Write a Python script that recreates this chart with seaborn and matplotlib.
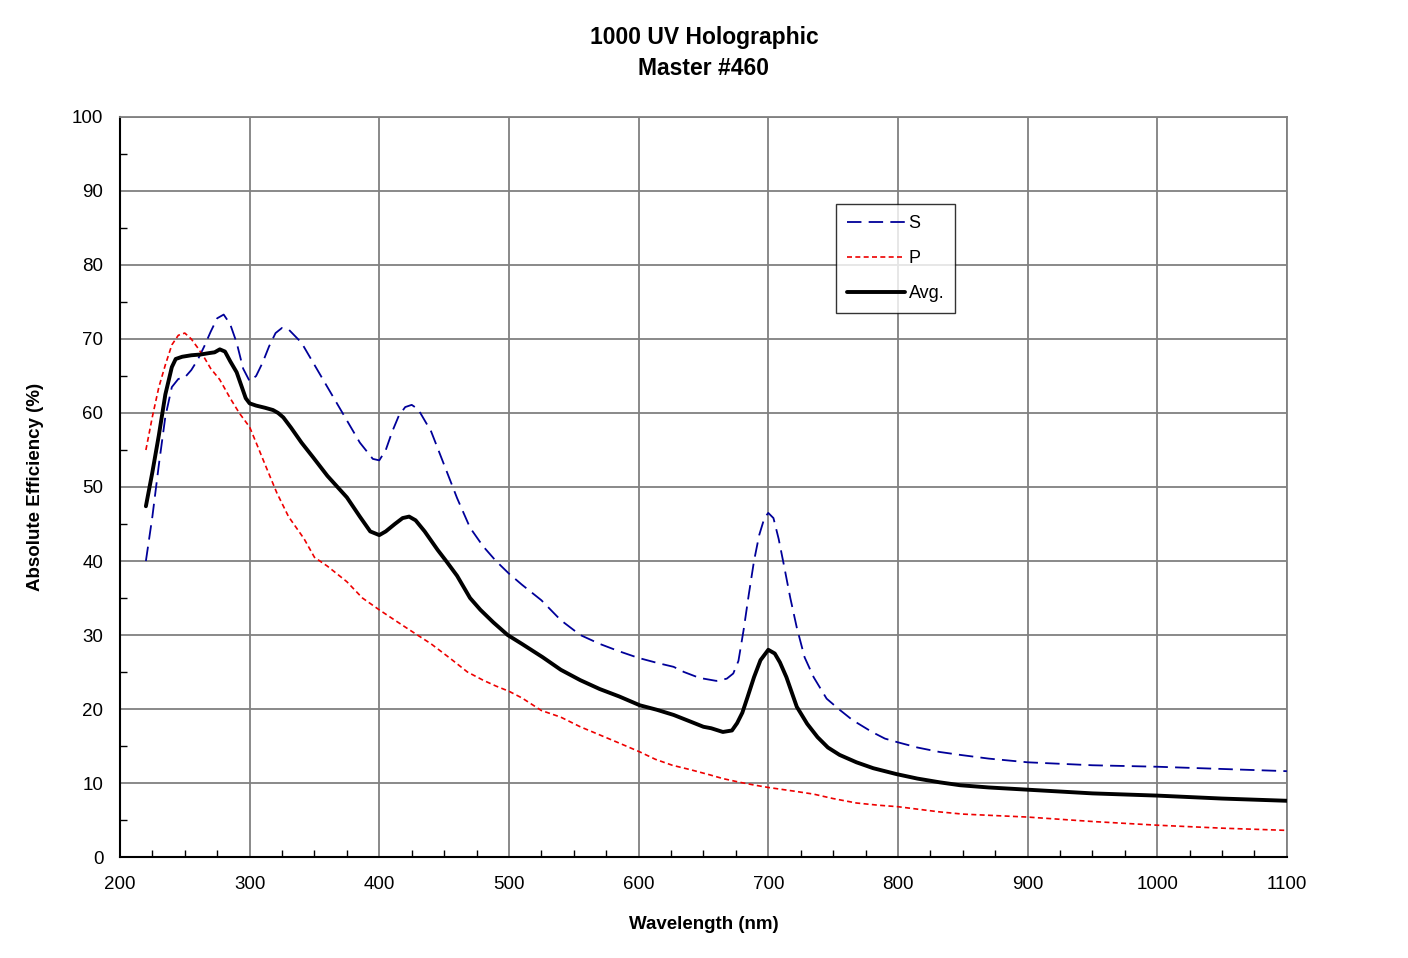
"""
Diffraction efficiency curves for the 1000 UV holographic master #460.
"""

import matplotlib
matplotlib.use("Agg")
import matplotlib.pyplot as plt
from matplotlib.ticker import MultipleLocator
import pandas as pd
import seaborn as sns

# S polarisation (nm, %)
s_wl = [220, 225, 230, 235, 240, 245, 250, 255, 260, 265, 270, 275, 280, 285,
        290, 295, 300, 305, 310, 315, 320, 325, 330, 340, 350, 360, 375, 385,
        395, 400, 405, 410, 415, 420, 425, 430, 440, 450, 460, 470, 480, 490,
        500, 510, 525, 540, 555, 570, 585, 600, 615, 627, 635, 647, 660, 668,
        673, 677, 681, 685, 689, 693, 697, 700, 704, 708, 712, 717, 722, 728,
        735, 745, 755, 765, 780, 790, 800, 815, 832, 848, 870, 900, 950, 1000,
        1050, 1100]
s_eff = [40.0, 46.0, 53.0, 59.5, 63.5, 64.6, 64.8, 65.8, 67.2, 69.0, 71.0, 72.8,
         73.3, 72.0, 69.5, 66.0, 64.3, 65.0, 66.8, 69.0, 70.8, 71.5, 71.3, 69.5,
         66.5, 63.5, 59.0, 56.0, 53.8, 53.6, 55.0, 57.5, 59.6, 60.8, 61.1, 60.5,
         57.5, 53.0, 48.5, 44.5, 42.0, 40.0, 38.3, 36.8, 34.7, 32.0, 30.0, 28.8,
         27.8, 26.9, 26.2, 25.7, 25.0, 24.2, 23.8, 24.1, 24.8, 26.5, 30.7, 35.5,
         40.0, 43.5, 45.8, 46.5, 45.8, 43.0, 39.5, 35.0, 31.0, 27.0, 24.3, 21.4,
         19.9, 18.5, 16.9, 16.0, 15.5, 14.8, 14.2, 13.8, 13.3, 12.8, 12.4, 12.2,
         11.9, 11.6]

# P polarisation
p_wl = [220, 225, 230, 235, 240, 245, 250, 255, 260, 265, 270, 277, 285, 292,
        300, 305, 312, 321, 330, 342, 350, 360, 375, 387, 400, 412, 425, 440,
        455, 468, 480, 490, 500, 510, 525, 540, 555, 570, 585, 601, 613, 626,
        640, 655, 665, 678, 690, 700, 720, 735, 750, 768, 785, 800, 832, 850,
        900, 950, 1000, 1050, 1100]
p_eff = [55.0, 59.5, 63.5, 66.5, 69.2, 70.5, 70.8, 70.0, 68.8, 67.5, 66.0, 64.5,
         62.0, 60.0, 58.1, 56.0, 53.0, 49.2, 46.0, 43.0, 40.5, 39.3, 37.2, 35.0,
         33.4, 32.0, 30.5, 28.8, 26.8, 25.0, 23.9, 23.1, 22.4, 21.5, 19.8, 18.9,
         17.6, 16.5, 15.4, 14.2, 13.2, 12.4, 11.8, 11.1, 10.6, 10.1, 9.7, 9.4,
         8.9, 8.5, 7.9, 7.3, 7.0, 6.8, 6.1, 5.8, 5.4, 4.8, 4.3, 3.9, 3.6]

# average of S and P
avg_wl = [220, 225, 230, 235, 240, 243, 248, 255, 262, 269, 273, 277, 281, 285,
          290, 294, 297, 300, 305, 312, 318, 322, 326, 332, 340, 349, 360, 375,
          385, 393, 400, 405, 412, 418, 423, 428, 435, 445, 452, 460, 470, 478,
          488, 499, 510, 526, 540, 555, 570, 585, 601, 614, 627, 640, 650, 656,
          665, 672, 676, 680, 684, 689, 694, 700, 705, 709, 714, 722, 730, 738,
          746, 755, 768, 781, 799, 815, 832, 848, 870, 900, 950, 1000, 1050, 1100]
avg_eff = [47.4, 52.0, 57.0, 62.5, 66.2, 67.3, 67.6, 67.8, 67.9, 68.1, 68.2,
           68.6, 68.3, 67.0, 65.5, 63.5, 62.0, 61.3, 61.0, 60.7, 60.4, 60.0,
           59.4, 58.0, 56.0, 54.0, 51.5, 48.6, 46.0, 44.0, 43.5, 44.0, 45.0,
           45.8, 46.0, 45.5, 44.0, 41.5, 39.9, 38.0, 35.0, 33.4, 31.7, 30.0,
           28.8, 27.0, 25.3, 23.9, 22.7, 21.7, 20.5, 19.9, 19.2, 18.3, 17.6,
           17.4, 16.9, 17.1, 18.1, 19.5, 21.6, 24.3, 26.6, 28.0, 27.5, 26.3,
           24.3, 20.3, 18.0, 16.2, 14.8, 13.8, 12.8, 12.0, 11.2, 10.6, 10.1,
           9.7, 9.4, 9.1, 8.6, 8.3, 7.9, 7.6]

sns.set_theme(style="white")
plt.rcParams["font.family"] = ["Liberation Sans", "DejaVu Sans"]
plt.rcParams["text.color"] = "black"
plt.rcParams["axes.labelcolor"] = "black"
plt.rcParams["xtick.color"] = "black"
plt.rcParams["ytick.color"] = "black"

fig = plt.figure(figsize=(14.08, 9.58), dpi=100)
ax = fig.add_axes([0.0852, 0.1054, 0.8288, 0.7725])

series = [
    ("S", s_wl, s_eff, "#000099", 1.3, (0, (8, 4))),
    ("P", p_wl, p_eff, "#ee0000", 1.2, (0, (3, 2))),
    ("Avg.", avg_wl, avg_eff, "black", 2.8, "-"),
]
for label, wl, eff, color, lw, ls in series:
    df = pd.DataFrame({"wl": wl, "eff": eff})
    sns.lineplot(data=df, x="wl", y="eff", ax=ax, color=color, linewidth=lw,
                 linestyle=ls, label=label, zorder=3)

ax.set_xlim(200, 1100)
ax.set_ylim(0, 100)
ax.xaxis.set_major_locator(MultipleLocator(100))
ax.xaxis.set_minor_locator(MultipleLocator(25))
ax.yaxis.set_major_locator(MultipleLocator(10))
ax.yaxis.set_minor_locator(MultipleLocator(5))
ax.grid(True, which="major", color="#808080", linewidth=1.3)
ax.tick_params(which="both", direction="in", labelsize=13.5,
               left=True, bottom=True)
ax.tick_params(axis="x", which="major", length=0, pad=14)
ax.tick_params(axis="y", which="major", length=0, pad=12)
ax.tick_params(which="minor", length=5, width=1)

for side in ["left", "bottom"]:
    ax.spines[side].set_color("black")
    ax.spines[side].set_linewidth(1.5)
for side in ["top", "right"]:
    ax.spines[side].set_color("#808080")
    ax.spines[side].set_linewidth(1.3)

ax.set_xlabel("Wavelength (nm)", fontsize=13.5, fontweight="bold", labelpad=16)
ax.set_ylabel("Absolute Efficiency (%)", fontsize=13.5, fontweight="bold", labelpad=20)
fig.text(0.5, 0.945, "1000 UV Holographic\nMaster #460", fontsize=16.5,
         fontweight="bold", ha="center", va="center", linespacing=1.45)

leg = ax.legend(loc="upper left", bbox_to_anchor=(0.614, 0.882), frameon=True,
                fancybox=False, edgecolor="black", fontsize=13, handlelength=3.2,
                handletextpad=0.2, borderpad=0.6, labelspacing=1.0,
                borderaxespad=0)
leg.get_frame().set_linewidth(1)

fig.savefig("out.png", dpi=100)
plt.close(fig)
